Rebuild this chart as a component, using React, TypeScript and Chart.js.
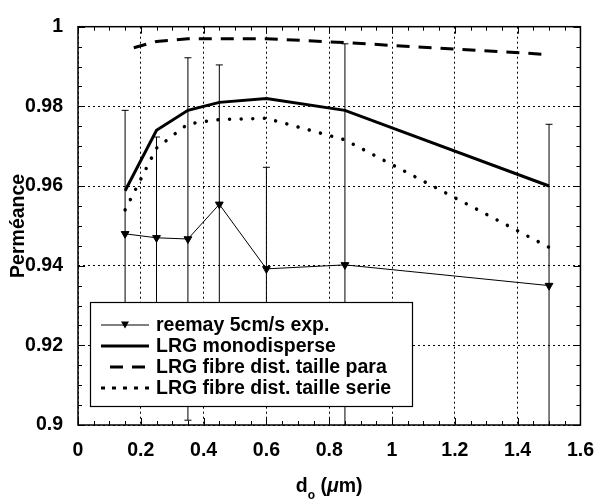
import React, { useEffect, useRef } from 'react';
import { Chart, registerables } from 'chart.js';

Chart.register(...registerables);

// ---- data ----
const diameters = [0.15, 0.25, 0.35, 0.45, 0.6, 0.85, 1.5];
const expValues = [0.948, 0.947, 0.9467, 0.9554, 0.9392, 0.9402, 0.935];
const expErrors = [0.031, 0.0253, 0.0455, 0.035, 0.0255, 0.0555, 0.0405];
const monoValues = [0.9588, 0.974, 0.979, 0.981, 0.982, 0.979, 0.96];
const paraValues = [0.9941, 0.9963, 0.997, 0.997, 0.997, 0.996, 0.993];
const serieValues = [0.954, 0.9695, 0.9756, 0.9767, 0.977, 0.9716, 0.9446];

const seriesLabels = [
  'reemay 5cm/s exp.',
  'LRG monodisperse',
  'LRG fibre dist. taille para',
  'LRG fibre dist. taille serie',
];
const yTitle = 'Perméance';
const xTitleMain = 'd';
const xTitleSub = 'o';
const xTitleMu = 'μ';
const xTitleUnit = 'm)';

const xMin = 0;
const xMax = 1.6;
const xStep = 0.2;
const xMinor = 0.05;
const yMin = 0.9;
const yMax = 1.0;
const yStep = 0.02;
const yMinor = 0.005;

const FONT = '"Liberation Sans", Arial, Helvetica, sans-serif';

const toPoints = (ys: number[]) => diameters.map((x, i) => ({ x, y: ys[i] }));

const errorBarPlugin = {
  id: 'errorBars',
  beforeDatasetsDraw(chart: any) {
    const { ctx, chartArea: ca, scales } = chart;
    const xs = scales.x;
    const ys = scales.y;
    ctx.save();
    ctx.beginPath();
    ctx.rect(ca.left, ca.top, ca.right - ca.left, ca.bottom - ca.top);
    ctx.clip();
    ctx.strokeStyle = '#000';
    ctx.lineWidth = 1;
    diameters.forEach((d, i) => {
      const px = xs.getPixelForValue(d);
      const top = ys.getPixelForValue(expValues[i] + expErrors[i]);
      const bot = ys.getPixelForValue(expValues[i] - expErrors[i]);
      ctx.beginPath();
      ctx.moveTo(px, top);
      ctx.lineTo(px, bot);
      ctx.moveTo(px - 3.5, top);
      ctx.lineTo(px + 3.5, top);
      ctx.moveTo(px - 3.5, bot);
      ctx.lineTo(px + 3.5, bot);
      ctx.stroke();
    });
    ctx.restore();
  },
};

const framePlugin = {
  id: 'frameAndLegend',
  afterDatasetsDraw(chart: any) {
    const { ctx, chartArea: ca, scales } = chart;
    const xs = scales.x;
    const ys = scales.y;
    ctx.save();

    // legend box
    const bx = ca.left + 12;
    const bw = 322;
    const bh = 104;
    const by = ca.bottom - 19 - bh;
    ctx.fillStyle = '#fff';
    ctx.fillRect(bx, by, bw, bh);
    ctx.strokeStyle = '#000';
    ctx.lineWidth = 1.2;
    ctx.strokeRect(bx + 0.5, by + 0.5, bw, bh);

    const sx0 = bx + 11;
    const sx1 = bx + 59;
    ctx.font = `bold 19.5px ${FONT}`;
    ctx.textBaseline = 'middle';
    ctx.textAlign = 'left';
    seriesLabels.forEach((label, i) => {
      const cy = by + 23 + i * 21;
      ctx.save();
      ctx.strokeStyle = '#000';
      ctx.beginPath();
      if (i === 0) {
        ctx.lineWidth = 1;
        ctx.moveTo(sx0, cy);
        ctx.lineTo(sx1, cy);
        ctx.stroke();
        const cx = (sx0 + sx1) / 2;
        ctx.fillStyle = '#000';
        ctx.beginPath();
        ctx.moveTo(cx - 4, cy - 3.5);
        ctx.lineTo(cx + 4, cy - 3.5);
        ctx.lineTo(cx, cy + 3.5);
        ctx.closePath();
        ctx.fill();
      } else if (i === 1) {
        ctx.lineWidth = 3;
        ctx.moveTo(sx0, cy);
        ctx.lineTo(sx1, cy);
        ctx.stroke();
      } else if (i === 2) {
        ctx.lineWidth = 3;
        ctx.setLineDash([13, 9]);
        ctx.lineDashOffset = 13;
        ctx.moveTo(sx0, cy);
        ctx.lineTo(sx1, cy);
        ctx.stroke();
      } else {
        ctx.lineWidth = 3;
        ctx.setLineDash([4, 7]);
        ctx.moveTo(sx0, cy);
        ctx.lineTo(sx1, cy);
        ctx.stroke();
      }
      ctx.restore();
      ctx.fillStyle = '#000';
      ctx.fillText(label, bx + 66, cy + 1);
    });

    // frame
    ctx.strokeStyle = '#000';
    ctx.lineWidth = 1.5;
    ctx.setLineDash([]);
    ctx.strokeRect(ca.left, ca.top, ca.right - ca.left, ca.bottom - ca.top);

    // inward ticks
    ctx.lineWidth = 1;
    ctx.beginPath();
    const nx = Math.round((xMax - xMin) / xMinor);
    for (let i = 0; i <= nx; i++) {
      const v = xMin + i * xMinor;
      const px = Math.round(xs.getPixelForValue(v)) + 0.5;
      const major = i % Math.round(xStep / xMinor) === 0;
      const len = major ? 7 : 4;
      ctx.moveTo(px, ca.bottom);
      ctx.lineTo(px, ca.bottom - len);
      ctx.moveTo(px, ca.top);
      ctx.lineTo(px, ca.top + len);
    }
    const ny = Math.round((yMax - yMin) / yMinor);
    for (let i = 0; i <= ny; i++) {
      const v = yMin + i * yMinor;
      const py = Math.round(ys.getPixelForValue(v)) + 0.5;
      const major = i % Math.round(yStep / yMinor) === 0;
      const len = major ? 7 : 4;
      ctx.moveTo(ca.left, py);
      ctx.lineTo(ca.left + len, py);
      ctx.moveTo(ca.right, py);
      ctx.lineTo(ca.right - len, py);
    }
    ctx.stroke();

    // x axis title with subscript
    const cxT = (ca.left + ca.right) / 2;
    const base = ca.bottom + 67;
    ctx.fillStyle = '#000';
    ctx.textBaseline = 'alphabetic';
    const bigFont = `bold 19.5px ${FONT}`;
    const subFont = `bold 12px ${FONT}`;
    const muFont = `italic bold 19.5px ${FONT}`;
    ctx.font = bigFont;
    const wD = ctx.measureText(xTitleMain).width;
    const wSp = ctx.measureText(' (').width;
    const wUnit = ctx.measureText(xTitleUnit).width;
    ctx.font = subFont;
    const wSub = ctx.measureText(xTitleSub).width;
    ctx.font = muFont;
    const wMu = ctx.measureText(xTitleMu).width;
    const total = wD + wSub + wSp + wMu + wUnit;
    let x = cxT - total / 2;
    ctx.textAlign = 'left';
    ctx.font = bigFont;
    ctx.fillText(xTitleMain, x, base);
    x += wD;
    ctx.font = subFont;
    ctx.fillText(xTitleSub, x, base + 7);
    x += wSub;
    ctx.font = bigFont;
    ctx.fillText(' (', x, base);
    x += wSp;
    ctx.font = muFont;
    ctx.fillText(xTitleMu, x, base);
    x += wMu;
    ctx.font = bigFont;
    ctx.fillText(xTitleUnit, x, base);

    ctx.restore();
  },
};

const fmt = (v: number) => String(Number(v.toFixed(3)));

export default function App() {
  const ref = useRef<HTMLCanvasElement>(null);
  useEffect(() => {
    if (!ref.current) return;
    const tickFont = { family: FONT, size: 19.5, weight: 'bold' as const };
    const chart = new Chart(ref.current, {
      type: 'line',
      data: {
        datasets: [
          {
            label: seriesLabels[0],
            data: toPoints(expValues),
            borderColor: '#000',
            backgroundColor: '#000',
            borderWidth: 1,
            pointStyle: 'triangle',
            rotation: 180,
            pointRadius: 4.5,
            pointBorderWidth: 1,
            pointBackgroundColor: '#000',
            pointBorderColor: '#000',
          },
          {
            label: seriesLabels[1],
            data: toPoints(monoValues),
            borderColor: '#000',
            borderWidth: 3,
            pointRadius: 0,
          },
          {
            label: seriesLabels[2],
            data: toPoints(paraValues),
            borderColor: '#000',
            borderWidth: 3,
            borderDash: [13, 9],
            borderDashOffset: 13,
            pointRadius: 0,
          },
          {
            label: seriesLabels[3],
            data: toPoints(serieValues),
            borderColor: '#000',
            borderWidth: 3.5,
            borderDash: [0.01, 11.6],
            borderCapStyle: 'round',
            pointRadius: 0,
          },
        ],
      } as any,
      options: {
        responsive: false,
        animation: false,
        devicePixelRatio: 1,
        layout: { padding: { top: 17, right: 21, left: 0, bottom: 0 } },
        plugins: {
          legend: { display: false },
          tooltip: { enabled: false },
        },
        scales: {
          x: {
            type: 'linear',
            min: xMin,
            max: xMax,
            ticks: {
              stepSize: xStep,
              color: '#000',
              font: tickFont,
              padding: 14,
              maxRotation: 0,
              callback: (v: any) => fmt(Number(v)),
            },
            grid: { color: '#000', lineWidth: 1, drawTicks: false },
            border: { display: false, dash: [2, 3] },
            afterFit: (s: any) => {
              s.height = 79;
            },
          },
          y: {
            type: 'linear',
            min: yMin,
            max: yMax,
            ticks: {
              stepSize: yStep,
              color: '#000',
              font: tickFont,
              padding: 15,
              callback: (v: any) => fmt(Number(v)),
            },
            grid: { color: '#000', lineWidth: 1, drawTicks: false },
            border: { display: false, dash: [2, 3] },
            title: {
              display: true,
              text: yTitle,
              color: '#000',
              font: { family: FONT, size: 19.5, weight: 'bold' },
              padding: { top: 7, bottom: 0 },
            },
            afterFit: (s: any) => {
              s.width = 78;
            },
          },
        },
      } as any,
      plugins: [errorBarPlugin, framePlugin],
    });
    return () => chart.destroy();
  }, []);
  return (
    <div style={{ position: 'absolute', left: 0, top: 0, width: 608, height: 504, background: '#fff' }}>
      <canvas ref={ref} width={608} height={504} style={{ display: 'block', width: 608, height: 504 }} />
    </div>
  );
}
